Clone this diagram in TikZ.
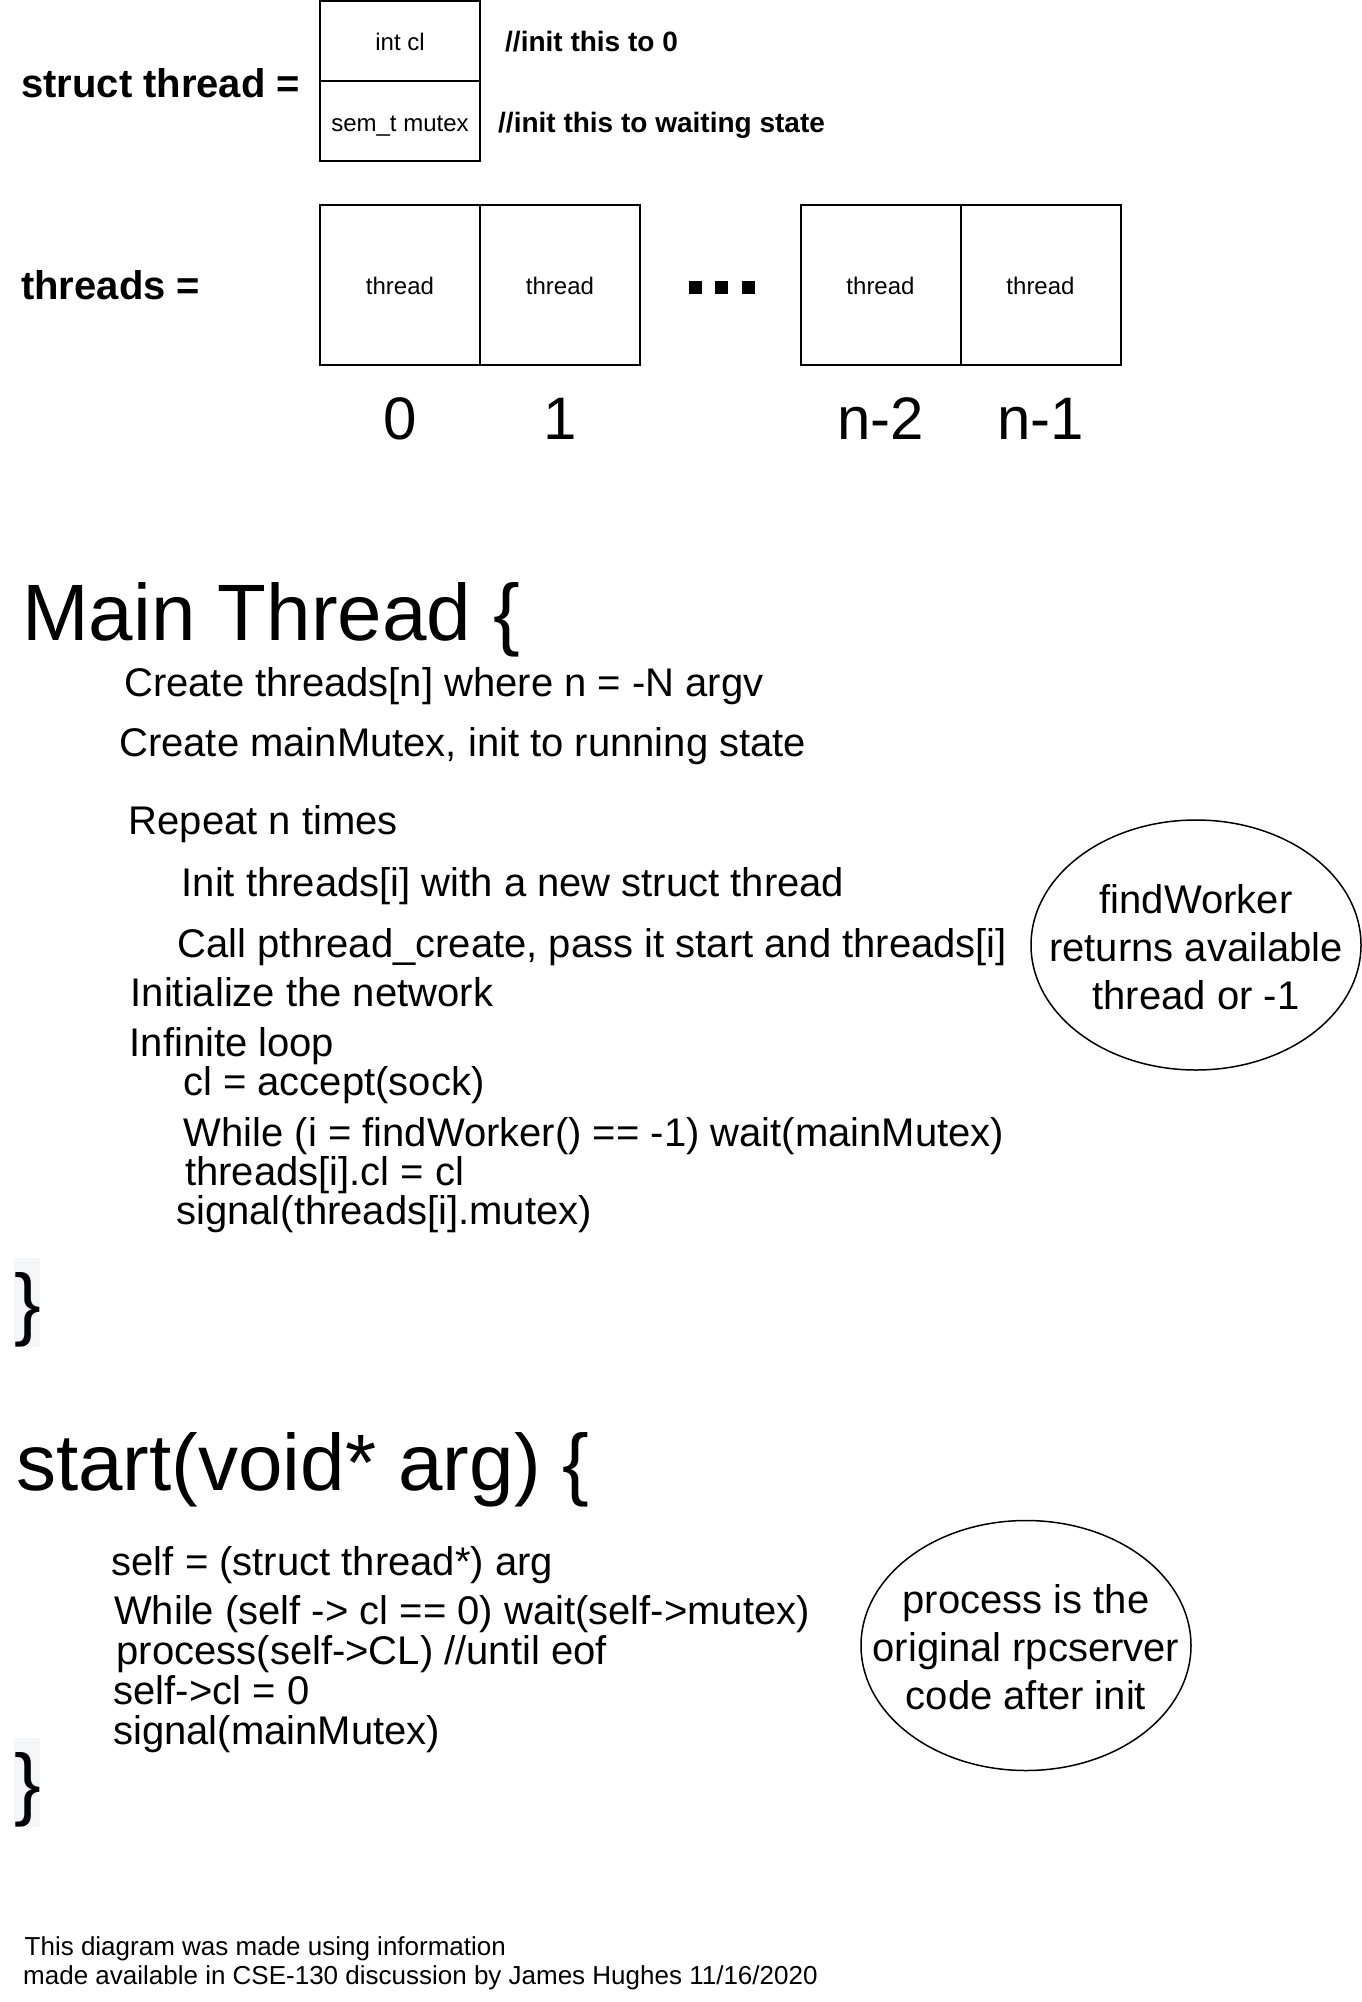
\documentclass[tikz,border=0pt]{standalone}
\usepackage{fontspec}
\setmainfont{Liberation Sans}
\usetikzlibrary{shapes.geometric}
\definecolor{bracebg}{HTML}{F4F6F8}
\tikzset{
 cell/.style={draw, line width=2pt, minimum width=160pt, inner sep=0pt, outer sep=0pt, font=\fontsize{24}{28.8}\selectfont, text height=20pt, text depth=0pt},
 hdr/.style={anchor=base west, inner sep=0pt, font=\fontsize{40}{48}\selectfont\bfseries},
 note/.style={anchor=base west, inner sep=0pt, font=\fontsize{28}{33.6}\selectfont\bfseries},
 idx/.style={anchor=base, inner sep=0pt, font=\fontsize{60}{72}\selectfont},
 big/.style={anchor=base west, inner sep=0pt, font=\fontsize{80}{96}\selectfont},
 body/.style={anchor=base west, inner sep=0pt, font=\fontsize{40}{48}\selectfont},
 foot/.style={anchor=base west, inner sep=0pt, font=\fontsize{26}{30}\selectfont},
 bubble/.style={draw, ellipse, line width=1.5pt, minimum width=330pt, minimum height=250pt, inner sep=0pt},
 bubtext/.style={align=center, inner sep=0pt, font=\fontsize{40}{48}\selectfont},
 dotbox/.style={fill=black, minimum size=13pt, inner sep=0pt, outer sep=0pt},
}
\begin{document}
\begin{tikzpicture}[x=1pt,y=-1pt]
\useasboundingbox (0,0) rectangle (1362,2002);
% struct thread
\node[hdr] (structlbl) at (21,97) {struct thread =};
\node[cell, minimum height=80pt] (cl) at (400,41) {int cl};
\node[cell, minimum height=80pt] (mutex) at (400,121) {sem\_t mutex};
\node[note] (n1) at (505,52) {//init this to 0};
\node[note] (n2) at (498,132) {//init this to waiting state};
% threads array
\node[hdr] (threadslbl) at (21,299) {threads =};
\node[cell, minimum height=160pt] (t0) at (400,284.5) {thread};
\node[cell, minimum height=160pt] (t1) at (560,284.5) {thread};
\node[cell, minimum height=160pt] (t2) at (880.5,284.5) {thread};
\node[cell, minimum height=160pt] (t3) at (1040.5,284.5) {thread};
\node[dotbox] (d1) at (695,287.5) {};
\node[dotbox] (d2) at (721.5,287.5) {};
\node[dotbox] (d3) at (748,287.5) {};
\node[idx] (i0) at (400,439) {0};
\node[idx] (i1) at (560,439) {1};
\node[idx] (i2) at (880.5,439) {n-2};
\node[idx] (i3) at (1040.5,439) {n-1};
% Main thread
\node[big] (mainhdr) at (22,640) {Main Thread \{};
\node[body] (m1) at (124,696) {Create threads[n] where n = -N argv};
\node[body] (m2) at (119,756) {Create mainMutex, init to running state};
\node[body] (m3) at (128.5,834) {Repeat n times};
\node[body] (m4) at (181.5,896) {Init threads[i] with a new struct thread};
\node[body] (m5) at (177.5,957) {Call pthread\_create, pass it start and threads[i]};
\node[body] (m6) at (130.5,1006) {Initialize the network};
\node[body] (m7) at (129.5,1056) {Infinite loop};
\node[body] (m8) at (183,1095) {cl = accept(sock)};
\node[body] (m9) at (183.5,1146) {While (i = findWorker() == -1) wait(mainMutex)};
\node[body] (m10) at (185,1185) {threads[i].cl = cl};
\node[body] (m11) at (176,1224) {signal(threads[i].mutex)};
\fill[bracebg] (14,1258) rectangle (40,1347);
\node[big] (mainend) at (14,1330) {\}};
\node[bubble] (fwbub) at (1196,945) {};
\node[bubtext] (fwtext) at ([yshift=-2pt]fwbub.center) {findWorker\\returns available\\thread or -1};
% start
\node[big] (starthdr) at (16,1490) {start(void* arg) \{};
\node[body] (s1) at (111.5,1575) {self = (struct thread*) arg};
\node[body] (s2) at (114,1624) {While (self -> cl == 0) wait(self->mutex)};
\node[body] (s3) at (116.5,1664) {process(self->CL) //until eof};
\node[body] (s4) at (113.5,1704) {self->cl = 0};
\node[body] (s5) at (113,1744) {signal(mainMutex)};
\fill[bracebg] (14,1738) rectangle (40,1827);
\node[big] (startend) at (14,1810) {\}};
\node[bubble] (prbub) at (1026,1645.5) {};
\node[bubtext] (prtext) at ([yshift=-2pt]prbub.center) {process is the\\original rpcserver\\code after init};
% footer
\node[foot] (f1) at (24.5,1955.5) {This diagram was made using information};
\node[foot] (f2) at (23,1984) {made available in CSE-130 discussion by James Hughes 11/16/2020};
\end{tikzpicture}
\end{document}
